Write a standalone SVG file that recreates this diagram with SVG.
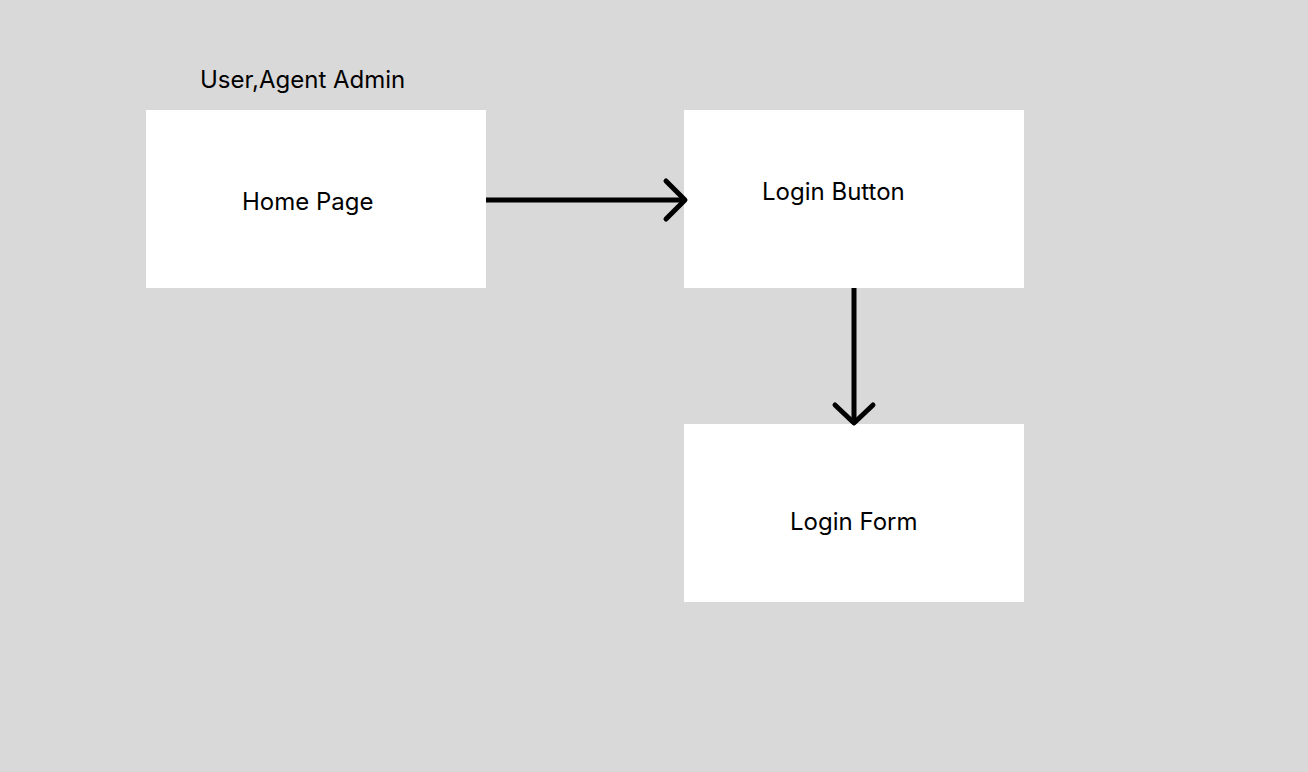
<svg xmlns="http://www.w3.org/2000/svg" width="1308" height="772" viewBox="0 0 1308 772">
<style>
.box{fill:#ffffff}
.lbl{font-family:Inter,"Liberation Sans",sans-serif;font-size:24px;fill:#000000}
.conn{fill:none;stroke:#000000;stroke-width:5;stroke-linecap:round;stroke-linejoin:round}
.shaft{stroke-linecap:butt}
</style>
<rect x="0" y="0" width="1308" height="772" fill="#d9d9d9"/>
<text class="lbl" x="200" y="88">User,Agent Admin</text>
<g id="home-page">
<rect class="box" x="146" y="110" width="340" height="178"/>
<text class="lbl" x="242" y="210">Home Page</text>
</g>
<g id="login-button">
<rect class="box" x="684" y="110" width="340" height="178"/>
<text class="lbl" x="762" y="200">Login Button</text>
</g>
<g id="login-form">
<rect class="box" x="684" y="424" width="340" height="178"/>
<text class="lbl" x="790" y="530">Login Form</text>
</g>
<g id="connectors">
<path class="conn shaft" d="M486 200 H684"/>
<path class="conn" d="M666 181 L685 200 L666 219"/>
<path class="conn shaft" d="M854 288 V422"/>
<path class="conn" d="M835 405 L854 423 L873 405"/>
</g>
</svg>
